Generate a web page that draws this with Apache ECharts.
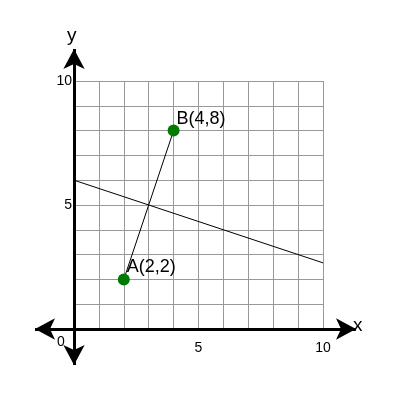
<!DOCTYPE html>
<html>
<head>
<meta charset="utf-8">
<script src="https://cdn.jsdelivr.net/npm/echarts@6/dist/echarts.min.js"></script>
<style>html,body{margin:0;padding:0;background:#fff}#chart{width:400px;height:400px}</style>
</head>
<body>
<div id="chart"></div>
<script>
// points and lines
var pointA = [2, 2];
var pointB = [4, 8];
var pointLabels = ['A(2,2)', 'B(4,8)'];
var bisector = [[0, 6], [10, 2.667]];
var xTickShow = [5, 10];
var yTickShow = [5, 10];

var chart = echarts.init(document.getElementById('chart'));
var option = {
	animation: false,
	grid: {left: 74, right: 77, top: 81, bottom: 71},
	xAxis: {
		type: 'value', min: 0, max: 10, interval: 1,
		axisLine: {show: false}, axisTick: {show: false},
		splitLine: {lineStyle: {color: '#999', width: 1}},
		axisLabel: {color: '#000', fontSize: 14, fontFamily: 'Liberation Sans', margin: 12,
			formatter: function(v){ return xTickShow.indexOf(v) >= 0 ? v : ''; }}
	},
	yAxis: {
		type: 'value', min: 0, max: 10, interval: 1,
		axisLine: {show: false}, axisTick: {show: false},
		splitLine: {lineStyle: {color: '#999', width: 1}},
		axisLabel: {color: '#000', fontSize: 14, fontFamily: 'Liberation Sans', margin: 2,
			formatter: function(v){ return yTickShow.indexOf(v) >= 0 ? v : ''; }}
	},
	graphic: [
		{type: 'text', left: 57, top: 335, style: {text: '0', fontSize: 14, fontFamily: 'Liberation Sans', fill: '#000'}},
		{type: 'text', left: 353, top: 316, style: {text: 'x', fontSize: 19, fontFamily: 'Liberation Sans', fill: '#000'}},
		{type: 'text', left: 67, top: 26, style: {text: 'y', fontSize: 19, fontFamily: 'Liberation Sans', fill: '#000'}}
	],
	series: [
		{
			type: 'line', data: bisector, symbol: 'none', silent: true,
			lineStyle: {color: '#000', width: 1},
			markLine: {
				silent: true, symbol: ['arrow', 'arrow'], symbolSize: [16, 20], label: {show: false},
				lineStyle: {color: '#000', width: 3, type: 'solid'},
				data: [
					[{x: 35, y: 329}, {x: 356, y: 329}],
					[{x: 74, y: 365}, {x: 74, y: 49}]
				]
			}
		},
		{
			type: 'line', data: [pointA, pointB], symbol: 'circle', symbolSize: 12,
			lineStyle: {color: '#000', width: 1},
			itemStyle: {color: '#007a00'},
			label: {show: true, position: 'right', offset: [-8, -12], fontSize: 18, fontFamily: 'Liberation Sans', color: '#000',
				formatter: function(p){ return pointLabels[p.dataIndex]; }}
		}
	]
};
chart.setOption(option);
</script>
</body>
</html>
